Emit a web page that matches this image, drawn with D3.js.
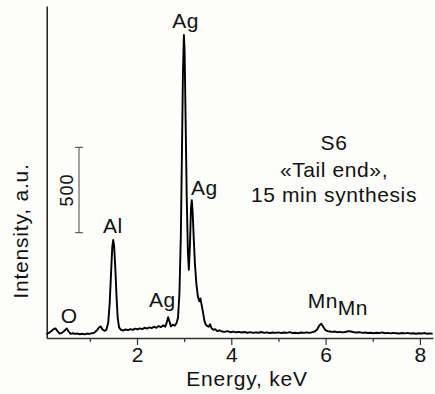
<!DOCTYPE html>
<html>
<head>
<meta charset="utf-8">
<script src="https://cdn.jsdelivr.net/npm/d3@7"></script>
<style>
  html, body { margin: 0; padding: 0; background: #fdfdfb; }
  svg { display: block; font-family: "Liberation Sans", Arial, sans-serif; }
</style>
</head>
<body>
<svg id="chart" width="435" height="394"></svg>
<script>
// ---- data ----
const energy = [
  0.08,0.13,0.18,0.23,0.27,0.31,0.36,0.41,0.46,0.51,0.55,0.59,0.64,0.69,0.74,0.79,0.84,0.89,0.94,0.99,
  1.04,1.09,1.14,1.19,1.23,1.27,1.31,1.35,
  1.39,1.42,1.45,1.475,1.495,1.515,1.54,1.565,1.59,1.62,1.66,
  1.71,1.76,1.81,1.86,1.91,1.96,2.01,2.06,2.11,2.16,2.21,2.26,2.31,2.36,2.41,2.46,2.51,2.56,2.60,
  2.63,2.66,2.69,2.72,2.76,2.80,2.84,
  2.87,2.90,2.93,2.955,2.975,2.995,3.01,3.03,3.055,3.08,3.10,3.125,3.145,3.162,3.18,3.205,3.23,3.26,
  3.29,3.32,3.345,3.37,3.40,3.43,3.46,3.49,3.52,3.55,3.58,3.62,3.66,3.70,3.75,3.80,
  3.86,3.92,3.98,4.04,4.10,4.16,4.22,4.28,4.34,4.40,4.46,4.52,4.58,4.64,4.70,4.76,4.82,4.88,4.94,
  5.00,5.06,5.12,5.18,5.24,5.30,5.36,5.42,5.48,5.54,5.60,5.66,5.72,5.77,5.82,5.87,5.91,5.95,5.99,
  6.04,6.09,6.14,6.19,6.24,6.30,6.36,6.42,6.48,6.54,6.60,6.66,6.72,6.78,6.84,6.90,6.96,
  7.02,7.08,7.14,7.20,7.26,7.32,7.38,7.44,7.50,7.56,7.62,7.68,7.74,7.80,7.86,7.92,7.98,
  8.04,8.10,8.16,8.22,8.27
];
const counts = [
  22,30,40,52,56,42,26,30,42,56,38,24,28,24,26,22,25,21,26,24,
  28,30,42,60,68,50,42,48,
  90,200,380,530,574,540,410,250,120,62,48,
  44,50,46,52,48,55,50,56,52,60,55,62,58,66,60,70,64,74,66,
  90,122,95,68,78,72,88,
  118,260,600,1120,1560,1775,1680,1300,820,500,400,560,760,808,740,574,428,316,
  246,215,232,195,150,100,78,70,66,80,58,48,52,40,45,38,
  36,40,34,37,33,36,32,35,31,34,30,33,31,35,30,33,29,32,30,
  33,29,32,30,34,29,31,28,32,30,33,30,34,38,50,75,84,66,48,
  40,38,36,38,34,36,33,35,40,38,34,32,34,30,32,29,31,
  28,31,29,33,28,30,27,30,28,26,29,27,30,26,28,25,28,
  26,29,25,27,24
];
const majorTicks = [2, 4, 6, 8];
const minorTicks = [1, 3, 5, 7];
const peakLabels = ["O", "Al", "Ag", "Ag", "Ag", "Mn", "Mn"];
const peakEnergy = [0.56, 1.49, 2.54, 3.03, 3.43, 5.94, 6.58];
const peakLabelCount = [85, 617, 180, 1818, 837, 175, 135];
const sampleText = ["S6", "\u00ABTail end\u00BB,", "15 min synthesis"];
const sampleBaselines = [150, 177, 202];
const scaleBarStart = 617;
const scaleBarValue = 500;
const xLabel = "Energy, keV";
const yLabel = "Intensity, a.u.";

// ---- layout ----
const svg = d3.select("#chart");
const x = d3.scaleLinear().domain([0.085, 8.278]).range([46.7, 433]);
const y = d3.scaleLinear().domain([0, 1945]).range([338, 6]);

// bottom axis (major)
const gx = svg.append("g").attr("transform", `translate(0,${y(0)})`)
  .call(d3.axisBottom(x).tickValues(majorTicks).tickSize(7).tickSizeOuter(0).tickPadding(2).tickFormat(d3.format("d")));
gx.select(".domain").attr("stroke", "#333").attr("stroke-width", 1.4);
gx.selectAll(".tick line").attr("stroke", "#333").attr("stroke-width", 1.2);
gx.selectAll(".tick text").attr("font-size", 21).attr("fill", "#111").attr("font-family", "Liberation Sans, Arial, sans-serif");

// minor ticks
const gm = svg.append("g").attr("transform", `translate(0,${y(0)})`)
  .call(d3.axisBottom(x).tickValues(minorTicks).tickSize(4).tickSizeOuter(0).tickFormat(""));
gm.select(".domain").remove();
gm.selectAll(".tick line").attr("stroke", "#333").attr("stroke-width", 1.2);

// left axis (no ticks)
const gy = svg.append("g").attr("transform", `translate(${x(0.085)},0)`)
  .call(d3.axisLeft(y).tickValues([]).tickSizeOuter(0));
gy.select(".domain").attr("stroke", "#111").attr("stroke-width", 1.4);

// spectrum
const data = energy.map((e, i) => ({ e, c: counts[i] }));
svg.append("path").datum(data)
  .attr("fill", "none").attr("stroke", "#000").attr("stroke-width", 1.9)
  .attr("stroke-linejoin", "round")
  .attr("d", d3.line().x(d => x(d.e)).y(d => y(d.c)));

// scale bar
const sbX = 79;
const sb = svg.append("g").attr("stroke", "#444").attr("stroke-width", 1);
sb.append("line").attr("x1", sbX).attr("x2", sbX).attr("y1", y(scaleBarStart)).attr("y2", y(scaleBarStart + scaleBarValue));
[scaleBarStart, scaleBarStart + scaleBarValue].forEach(v => {
  sb.append("line").attr("x1", sbX - 4).attr("x2", sbX + 4).attr("y1", y(v)).attr("y2", y(v));
});
svg.append("text")
  .attr("transform", `translate(73,${y(scaleBarStart + scaleBarValue / 2)}) rotate(-90)`)
  .attr("text-anchor", "middle").attr("font-size", 18).attr("letter-spacing", 1).attr("fill", "#111")
  .text(String(scaleBarValue));

// peak labels
peakLabels.forEach((t, i) => {
  svg.append("text")
    .attr("x", x(peakEnergy[i])).attr("y", y(peakLabelCount[i]))
    .attr("text-anchor", "middle").attr("font-size", 21).attr("letter-spacing", 0.5).attr("fill", "#111")
    .text(t);
});

// sample text
sampleText.forEach((t, i) => {
  svg.append("text")
    .attr("x", 334).attr("y", sampleBaselines[i])
    .attr("text-anchor", "middle").attr("font-size", 21).attr("letter-spacing", 0.6).attr("fill", "#111")
    .text(t);
});

// axis titles
svg.append("text")
  .attr("x", 247).attr("y", 386)
  .attr("text-anchor", "middle").attr("font-size", 21).attr("letter-spacing", 0.8).attr("fill", "#111")
  .text(xLabel);
svg.append("text")
  .attr("transform", "translate(28,231) rotate(-90)")
  .attr("text-anchor", "middle").attr("font-size", 21).attr("letter-spacing", 0.8).attr("fill", "#111")
  .text(yLabel);
</script>
</body>
</html>
